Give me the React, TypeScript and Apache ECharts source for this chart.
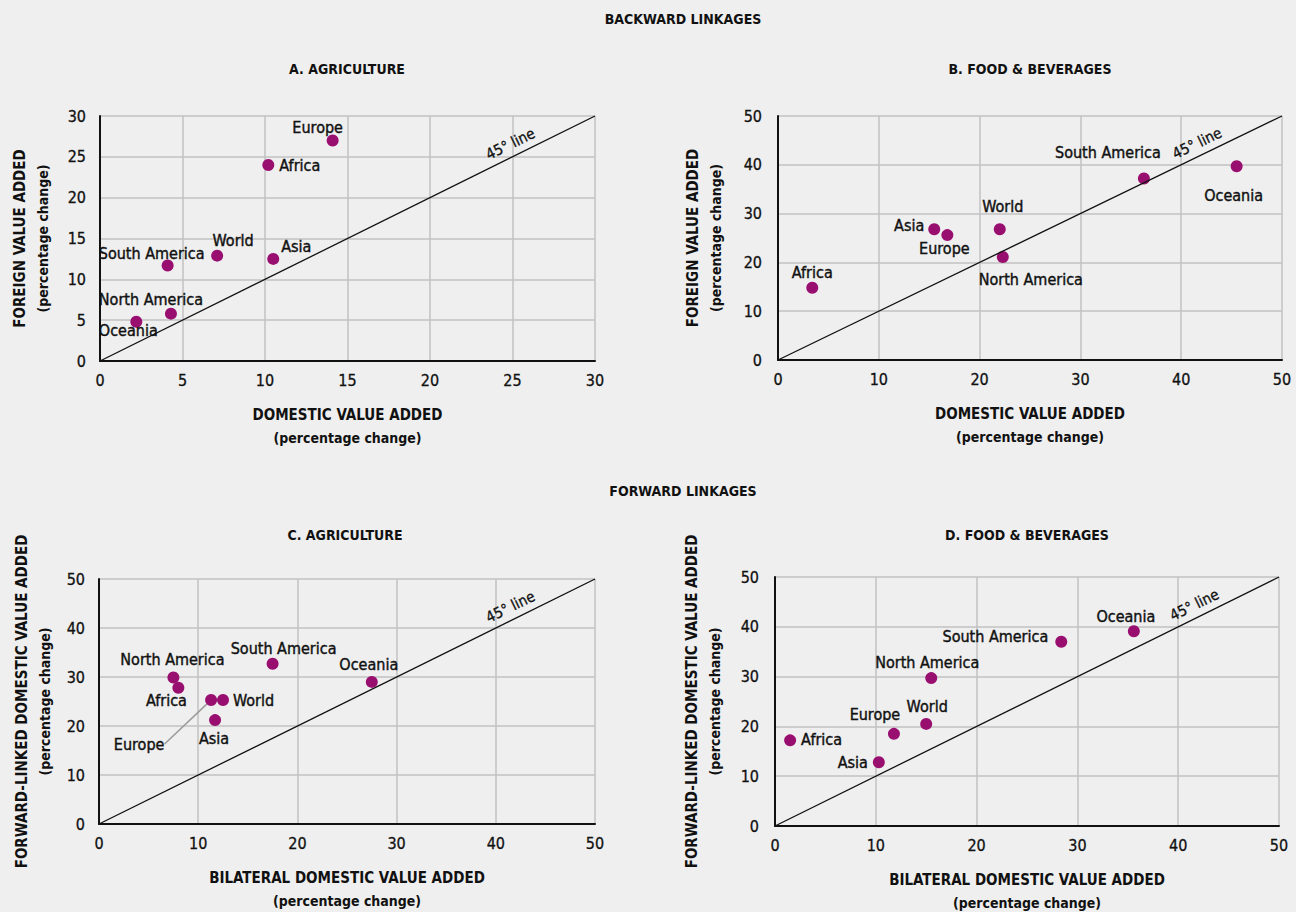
import React, { useEffect, useRef } from "react";
import * as echarts from "echarts";

// ---------- DATA ----------
const sectionTitles = ["BACKWARD LINKAGES", "FORWARD LINKAGES"];
const panelTitles = ["A. AGRICULTURE", "B. FOOD & BEVERAGES", "C. AGRICULTURE", "D. FOOD & BEVERAGES"];
const xAxisNames = ["DOMESTIC VALUE ADDED", "DOMESTIC VALUE ADDED", "BILATERAL DOMESTIC VALUE ADDED", "BILATERAL DOMESTIC VALUE ADDED"];
const yAxisNames = ["FOREIGN VALUE ADDED", "FOREIGN VALUE ADDED", "FORWARD-LINKED DOMESTIC VALUE ADDED", "FORWARD-LINKED DOMESTIC VALUE ADDED"];
const unitLabel = "(percentage change)";
const lineLabel = "45° line";
const axisMax = [30, 50, 50, 50];
const axisStep = [5, 10, 10, 10];

// Panel A: Agriculture, backward linkages
const aNames = ["Europe", "Africa", "World", "Asia", "South America", "North America", "Oceania"];
const aDomestic = [14.1, 10.2, 7.1, 10.5, 4.1, 4.3, 2.2];
const aForeign = [27.0, 24.0, 12.9, 12.5, 11.7, 5.8, 4.8];

// Panel B: Food & beverages, backward linkages
const bNames = ["Africa", "Asia", "Europe", "World", "North America", "South America", "Oceania"];
const bDomestic = [3.4, 15.5, 16.8, 22.0, 22.3, 36.3, 45.5];
const bForeign = [14.8, 26.8, 25.6, 26.8, 21.1, 37.2, 39.7];

// Panel C: Agriculture, forward linkages
const cNames = ["North America", "Africa", "Europe", "World", "Asia", "South America", "Oceania"];
const cBilateral = [7.5, 8.0, 11.3, 12.5, 11.7, 17.5, 27.5];
const cForward = [29.9, 27.8, 25.3, 25.3, 21.2, 32.7, 29.0];

// Panel D: Food & beverages, forward linkages
const dNames = ["Africa", "Asia", "Europe", "World", "North America", "South America", "Oceania"];
const dBilateral = [1.5, 10.3, 11.8, 15.0, 15.5, 28.4, 35.6];
const dForward = [17.2, 12.8, 18.5, 20.5, 29.7, 37.0, 39.1];

// ---------- STYLE / LAYOUT ----------
const FONT = "'Liberation Sans Narrow', 'Arial Narrow', 'DejaVu Sans Condensed', sans-serif";
const DOT = "#990f70";
const BG = "#efefef";
const INK = "#111111";

// label placement: [position, dx, dy]
type Place = [string, number, number];
const aPlace: Place[] = [["top", -15, 6], ["right", 0, 0], ["top", 16, 4], ["right", -3, -12], ["top", -16, 7], ["top", -20, 5], ["bottom", -8, -10]];
const bPlace: Place[] = [["top", 0, 4], ["left", 1, -4], ["bottom", -3, -6], ["top", 3, -4], ["bottom", 28, 3], ["top", -36, -7], ["bottom", -3, 10]];
const cPlace: Place[] = [["top", -1, 1], ["bottom", -12, -6], ["bottom", -72, 25], ["right", -1, 0], ["bottom", -1, -1], ["top", 11, 4], ["top", -3, 2]];
const dPlace: Place[] = [["right", 0, -1], ["left", 0, 0], ["top", -19, 0], ["top", 1, 2], ["top", -4, 3], ["left", -2, -5], ["top", -8, 4]];
const leaderPanel = 2;
const leaderIndex = 2;

const grids = [
  { left: 100, top: 116, width: 495, height: 245 },
  { left: 778, top: 116, width: 504, height: 244 },
  { left: 99, top: 579, width: 496, height: 245 },
  { left: 775, top: 577, width: 504, height: 249 },
];
const yNameGap = [46, 51, 43, 49];
const yLabelMargin = [14, 16, 14, 16];
const titlePos = [
  { left: 683, top: 12 },
  { left: 683, top: 484 },
];
const panelTitlePos = [
  { left: 347, top: 62 },
  { left: 1030, top: 62 },
  { left: 345, top: 528 },
  { left: 1027, top: 528 },
];

const panelsData = [
  { names: aNames, xs: aDomestic, ys: aForeign, place: aPlace },
  { names: bNames, xs: bDomestic, ys: bForeign, place: bPlace },
  { names: cNames, xs: cBilateral, ys: cForward, place: cPlace },
  { names: dNames, xs: dBilateral, ys: dForward, place: dPlace },
];

function buildOption() {
  const titleStyle = { fontFamily: FONT, fontSize: 14, fontWeight: "bold", color: INK };
  const title: any[] = [];
  sectionTitles.forEach((t, i) => {
    title.push({ text: t, left: titlePos[i].left, top: titlePos[i].top, textAlign: "center", padding: 0, textStyle: titleStyle });
  });
  panelTitles.forEach((t, i) => {
    title.push({ text: t, left: panelTitlePos[i].left, top: panelTitlePos[i].top, textAlign: "center", padding: 0, textStyle: titleStyle });
  });

  const nameRich = {
    a: { fontFamily: FONT, fontSize: 15, fontWeight: "bold", color: INK, lineHeight: 24 },
    b: { fontFamily: FONT, fontSize: 14, fontWeight: "bold", color: INK, lineHeight: 22 },
  };

  const tickLabel = { fontFamily: FONT, fontSize: 16, color: INK, textBorderColor: INK, textBorderWidth: 0.3 };

  const xAxis = grids.map((_, i) => ({
    gridIndex: i,
    type: "value",
    min: 0,
    max: axisMax[i],
    interval: axisStep[i],
    name: `{a|${xAxisNames[i]}}\n{b|${unitLabel}}`,
    nameLocation: "middle",
    nameGap: 42,
    nameTextStyle: { rich: nameRich },
    axisLine: { show: true, onZero: false, lineStyle: { color: INK, width: 2 } },
    axisTick: { show: false },
    axisLabel: { ...tickLabel, margin: 11 },
    splitLine: { show: true, lineStyle: { color: "#c2c2c2", width: 1.5 } },
  }));

  const yAxis = grids.map((_, i) => ({
    gridIndex: i,
    type: "value",
    min: 0,
    max: axisMax[i],
    interval: axisStep[i],
    name: `{a|${yAxisNames[i]}}\n{b|${unitLabel}}`,
    nameLocation: "middle",
    nameRotate: 90,
    nameGap: yNameGap[i],
    nameTextStyle: { rich: nameRich },
    axisLine: { show: true, onZero: false, lineStyle: { color: INK, width: 2 } },
    axisTick: { show: false },
    axisLabel: { ...tickLabel, margin: yLabelMargin[i] },
    splitLine: { show: true, lineStyle: { color: "#c2c2c2", width: 1.5 } },
  }));

  const series = panelsData.map((p, i) => ({
    type: "scatter",
    xAxisIndex: i,
    yAxisIndex: i,
    symbolSize: 12,
    itemStyle: { color: DOT, opacity: 1 },
    z: 3,
    label: {
      show: true,
      formatter: "{b}",
      fontFamily: FONT,
      fontSize: 16,
      color: INK,
      textBorderColor: INK,
      textBorderWidth: 0.4,
    },
    labelLayout: (params: any) => {
      const pl = p.place[params.dataIndex];
      return pl ? { dx: pl[1], dy: pl[2] } : {};
    },
    data: p.names.map((n, k) => {
      const isLeader = i === leaderPanel && k === leaderIndex;
      return {
        name: n,
        value: [p.xs[k], p.ys[k]],
        label: { position: p.place[k][0] },
        labelLine: isLeader
          ? { show: true, lineStyle: { color: "#9a9a9a", width: 1.5 } }
          : { show: false },
      };
    }),
    markLine: {
      silent: true,
      symbol: ["none", "none"],
      animation: false,
      lineStyle: { color: INK, width: 1.3, type: "solid" },
      label: {
        show: true,
        formatter: lineLabel,
        position: "insideEndTop",
        distance: [62, 5],
        fontFamily: FONT,
        fontSize: 15,
        color: INK,
        textBorderColor: INK,
        textBorderWidth: 0.3,
      },
      data: [[{ coord: [0, 0] }, { coord: [axisMax[i], axisMax[i]] }]],
    },
  }));

  return {
    animation: false,
    backgroundColor: BG,
    title,
    grid: grids.map((g) => ({ ...g, containLabel: false })),
    xAxis,
    yAxis,
    series,
  };
}

export default function App() {
  const ref = useRef<HTMLDivElement>(null);
  useEffect(() => {
    if (!ref.current) return;
    const chart = echarts.init(ref.current, null, { renderer: "svg" });
    chart.setOption(buildOption() as any);
    return () => chart.dispose();
  }, []);
  return (
    <div
      ref={ref}
      style={{ position: "absolute", left: 0, top: 0, width: 1296, height: 912, background: BG }}
    />
  );
}
